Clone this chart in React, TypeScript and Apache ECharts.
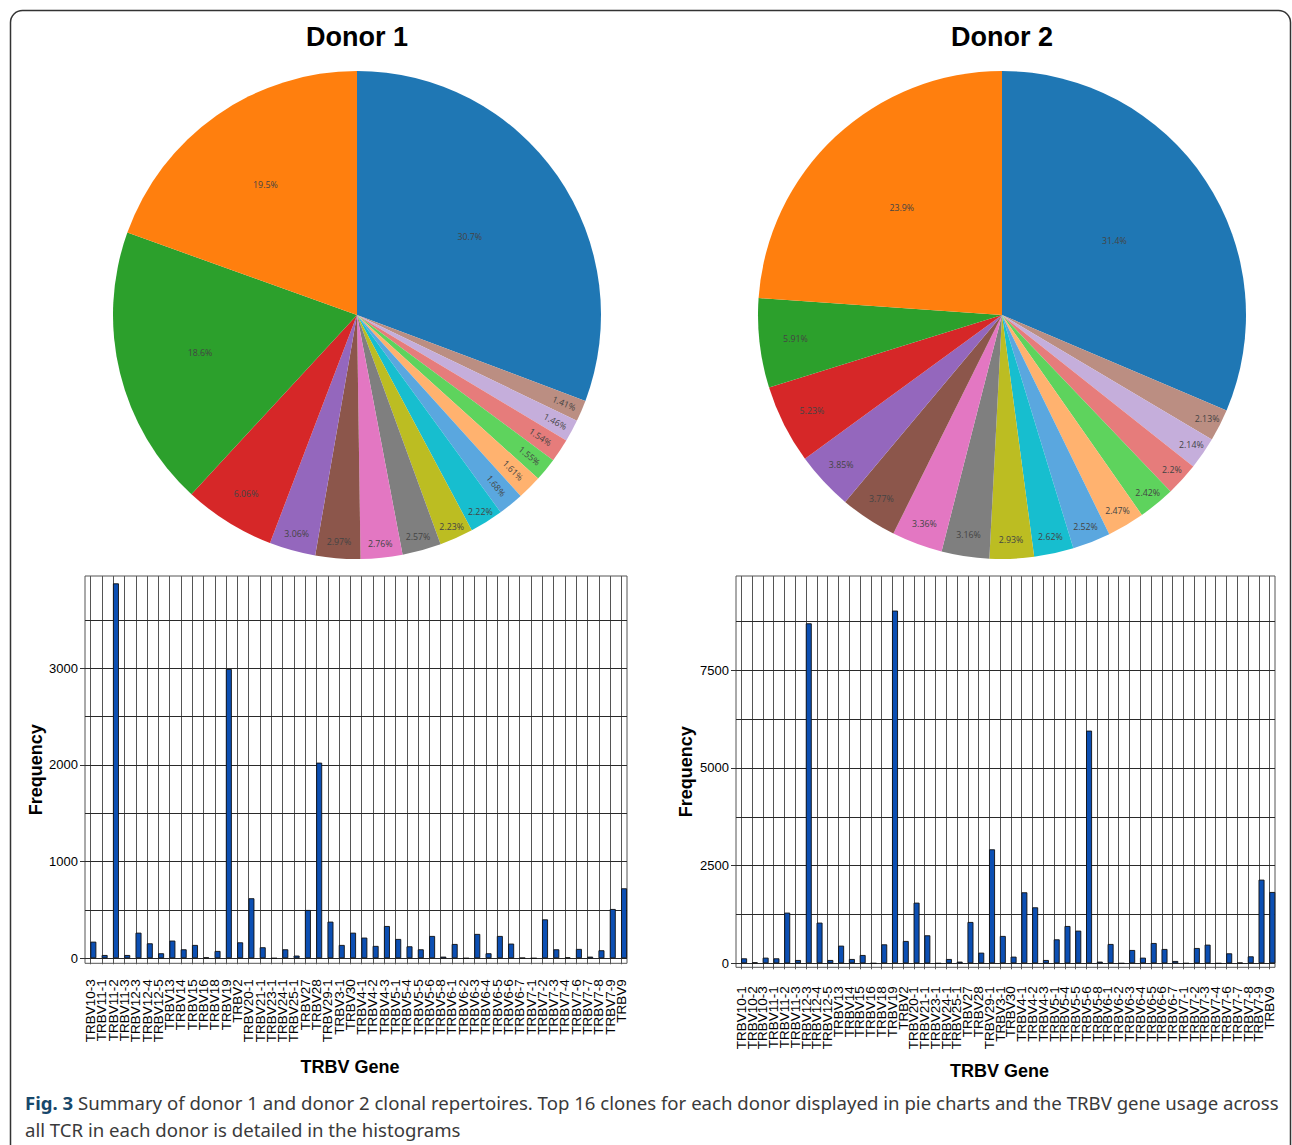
import React, { useEffect, useRef } from "react";
import * as echarts from "echarts";

// ---------- DATA ----------
const pie1Values = [30.7, 19.5, 18.6, 6.06, 3.06, 2.97, 2.76, 2.57, 2.23, 2.22, 1.68, 1.61, 1.55, 1.54, 1.46, 1.41];
const pie2Values = [31.4, 23.9, 5.91, 5.23, 3.85, 3.77, 3.36, 3.16, 2.93, 2.62, 2.52, 2.47, 2.42, 2.2, 2.14, 2.13];

const d1Genes = [
  "TRBV10-3", "TRBV11-1", "TRBV11-2", "TRBV11-3", "TRBV12-3", "TRBV12-4", "TRBV12-5", "TRBV13",
  "TRBV14", "TRBV15", "TRBV16", "TRBV18", "TRBV19", "TRBV2", "TRBV20-1", "TRBV21-1",
  "TRBV23-1", "TRBV24-1", "TRBV25-1", "TRBV27", "TRBV28", "TRBV29-1", "TRBV3-1", "TRBV30",
  "TRBV4-1", "TRBV4-2", "TRBV4-3", "TRBV5-1", "TRBV5-4", "TRBV5-5", "TRBV5-6", "TRBV5-8",
  "TRBV6-1", "TRBV6-2", "TRBV6-3", "TRBV6-4", "TRBV6-5", "TRBV6-6", "TRBV6-7", "TRBV7-1",
  "TRBV7-2", "TRBV7-3", "TRBV7-4", "TRBV7-6", "TRBV7-7", "TRBV7-8", "TRBV7-9", "TRBV9",
];
const d1Freq = [
  172, 34, 3879, 34, 265, 155, 52, 183,
  93, 138, 10, 76, 2993, 165, 621, 114,
  0, 93, 28, 500, 2024, 379, 138, 265,
  214, 128, 334, 200, 124, 93, 231, 17,
  148, 0, 252, 52, 231, 152, 5, 0,
  403, 93, 10, 97, 17, 83, 510, 724,
];

const d2Genes = [
  "TRBV10-1", "TRBV10-2", "TRBV10-3", "TRBV11-1", "TRBV11-2", "TRBV11-3", "TRBV12-3", "TRBV12-4",
  "TRBV12-5", "TRBV13", "TRBV14", "TRBV15", "TRBV16", "TRBV18", "TRBV19", "TRBV2",
  "TRBV20-1", "TRBV21-1", "TRBV23-1", "TRBV24-1", "TRBV25-1", "TRBV27", "TRBV28", "TRBV29-1",
  "TRBV3-1", "TRBV30", "TRBV4-1", "TRBV4-2", "TRBV4-3", "TRBV5-1", "TRBV5-4", "TRBV5-5",
  "TRBV5-6", "TRBV5-8", "TRBV6-1", "TRBV6-2", "TRBV6-3", "TRBV6-4", "TRBV6-5", "TRBV6-6",
  "TRBV6-7", "TRBV7-1", "TRBV7-2", "TRBV7-3", "TRBV7-4", "TRBV7-6", "TRBV7-7", "TRBV7-8",
  "TRBV7-9", "TRBV9",
];
const d2Freq = [
  128, 26, 145, 128, 1297, 85, 8700, 1041,
  85, 452, 111, 213, 0, 486, 9025, 572,
  1552, 717, 0, 111, 43, 1058, 273, 2917,
  700, 171, 1817, 1433, 85, 614, 955, 836,
  5954, 43, 495, 0, 341, 145, 520, 367,
  60, 0, 392, 478, 0, 256, 17, 179,
  2141, 1825,
];

const d1YTicks = [0, 1000, 2000, 3000];
const d1GridLines = [0, 500, 1000, 1500, 2000, 2500, 3000, 3500];
const d2YTicks = [0, 2500, 5000, 7500];
const d2GridLines = [0, 1250, 2500, 3750, 5000, 6250, 7500, 8750];

// ---------- STYLE ----------
const pieColors = [
  "#1f77b4", "#ff7f0e", "#2ca02c", "#d62728", "#9467bd", "#8c564b", "#e377c2", "#7f7f7f",
  "#bcbd22", "#17becf", "#5aa7df", "#ffb26f", "#5ed35d", "#e67c7b", "#c5aedb", "#bb8e82",
];
// label radius (fraction of pie radius) for each slice, and whether the text is turned radially
const pie1LabelR = [0.55, 0.64, 0.65, 0.85, 0.92, 0.92, 0.93, 0.93, 0.94, 0.94, 0.89, 0.89, 0.9, 0.89, 0.91, 0.91];
const pie1Radial = [false, false, false, false, false, false, false, false, false, false, true, true, true, true, true, true];
const pie2LabelR = [0.54, 0.59, 0.84, 0.86, 0.89, 0.89, 0.9, 0.9, 0.91, 0.92, 0.92, 0.92, 0.93, 0.93, 0.93, 0.93];
const pie2Radial = pie2Values.map(() => false);

const R = 244;
const BAR_COLOR = "#0c4fb3";
const SANS = '"Liberation Sans", Arial, sans-serif';

function buildPie(values: number[], labelR: number[], radial: boolean[], center: number[]) {
  const order = [0, ...values.map((_, i) => i).slice(1).reverse()];
  const base: any = {
    type: "pie",
    center,
    radius: R,
    startAngle: 90,
    clockwise: true,
    silent: true,
    avoidLabelOverlap: false,
    label: { show: false },
    labelLine: { show: false },
    itemStyle: { borderWidth: 0 },
    data: order.map((i) => ({ value: values[i], name: `${values[i]}%`, itemStyle: { color: pieColors[i] } })),
  };
  const groups = Array.from(new Set(labelR));
  const labelSeries = groups.map((f) => ({
    type: "pie",
    center,
    radius: [(2 * f - 1) * R, R],
    startAngle: 90,
    clockwise: true,
    silent: true,
    avoidLabelOverlap: false,
    itemStyle: { color: "rgba(0,0,0,0)", borderWidth: 0 },
    labelLine: { show: false },
    label: {
      show: true,
      position: "inside",
      formatter: (p: any) => `${p.value}%`,
      color: "#444",
      fontSize: 8.8,
      fontFamily: '"Open Sans", sans-serif',
    },
    data: order.map((i) => ({
      value: values[i],
      label: { show: labelR[i] === f, rotate: radial[i] ? "radial" : 0 },
    })),
  }));
  return [base, ...labelSeries];
}

function barAxes(
  idx: number,
  genes: string[],
  min: number,
  max: number,
  yTicks: number[],
  labelMargin: number,
  yNameGap: number
) {
  const xAxis = {
    type: "category",
    gridIndex: idx,
    data: genes,
    boundaryGap: true,
    axisLine: { show: false },
    axisTick: { show: true, alignWithLabel: true, length: 6, lineStyle: { color: "#555" } },
    axisLabel: {
      interval: 0,
      rotate: 90,
      margin: labelMargin,
      fontSize: 13.5,
      color: "#000",
      fontFamily: SANS,
    },
    splitLine: { show: true, alignWithLabel: true, lineStyle: { color: "#555", width: 1 } },
    name: "TRBV Gene",
    nameLocation: "middle",
    nameGap: 95,
    nameTextStyle: { fontSize: 18, fontWeight: "bold", color: "#000", fontFamily: SANS, padding: [0, 12, 0, 0] },
  };
  const yAxis = {
    type: "value",
    gridIndex: idx,
    min,
    max,
    axisLine: { show: false },
    axisTick: { show: true, length: 5, customValues: yTicks, lineStyle: { color: "#333" } },
    axisLabel: {
      customValues: yTicks,
      formatter: (v: number) => String(v),
      fontSize: 13,
      color: "#000",
      margin: 7,
      fontFamily: SANS,
    },
    splitLine: { show: false },
    name: "Frequency",
    nameLocation: "middle",
    nameGap: yNameGap,
    nameTextStyle: { fontSize: 18, fontWeight: "bold", color: "#000", fontFamily: SANS },
  };
  return { xAxis, yAxis };
}

function barSeries(idx: number, values: number[], gridLines: number[]) {
  return [
    {
      type: "bar",
      xAxisIndex: idx,
      yAxisIndex: idx,
      data: [],
      barWidth: 6,
      barGap: "-10%",
      silent: true,
    },
    {
      type: "bar",
      xAxisIndex: idx,
      yAxisIndex: idx,
      data: values,
      barWidth: 6,
      barGap: "-10%",
      silent: true,
      z: 3,
      itemStyle: { color: BAR_COLOR, borderColor: "#111", borderWidth: 0.9 },
      markLine: {
        silent: true,
        symbol: "none",
        z: 1,
        label: { show: false },
        lineStyle: { color: "#2a2a2a", width: 1, type: "solid" },
        data: gridLines.map((v) => ({ yAxis: v })),
      },
    },
  ];
}

export default function App() {
  const ref = useRef<HTMLDivElement>(null);

  useEffect(() => {
    if (!ref.current) return;
    const chart = echarts.init(ref.current, undefined, { renderer: "svg" });

    const a1 = barAxes(0, d1Genes, -52, 3955, d1YTicks, 16, 39);
    const a2 = barAxes(1, d2Genes, -102, 9910, d2YTicks, 19, 41);

    const option: any = {
      animation: false,
      backgroundColor: "#fff",
      grid: [
        { left: 85, top: 576, width: 542, height: 387.3, show: true, borderColor: "#555", borderWidth: 1, containLabel: false, outerBoundsMode: "none" },
        { left: 736, top: 576, width: 539, height: 391.3, show: true, borderColor: "#555", borderWidth: 1, containLabel: false, outerBoundsMode: "none" },
      ],
      xAxis: [a1.xAxis, a2.xAxis],
      yAxis: [a1.yAxis, a2.yAxis],
      series: [
        ...buildPie(pie1Values, pie1LabelR, pie1Radial, [357, 315]),
        ...buildPie(pie2Values, pie2LabelR, pie2Radial, [1002, 315]),
        ...barSeries(0, d1Freq, d1GridLines),
        ...barSeries(1, d2Freq, d2GridLines),
      ],
      graphic: [
        {
          type: "rect",
          silent: true,
          shape: { x: 10.5, y: 10.5, width: 1280, height: 1300, r: 12 },
          style: { fill: "rgba(0,0,0,0)", stroke: "#333", lineWidth: 1.5 },
        },
        {
          type: "text",
          x: 357,
          y: 37,
          style: { text: "Donor 1", font: `bold 27px ${SANS}`, fill: "#000", align: "center", verticalAlign: "middle" },
        },
        {
          type: "text",
          x: 1002,
          y: 37,
          style: { text: "Donor 2", font: `bold 27px ${SANS}`, fill: "#000", align: "center", verticalAlign: "middle" },
        },
        {
          type: "text",
          x: 25,
          y: 1089,
          style: {
            text:
              "{b|Fig. 3} Summary of donor 1 and donor 2 clonal repertoires. Top 16 clones for each donor displayed in pie charts and the TRBV gene usage across\nall TCR in each donor is detailed in the histograms",
            fontSize: 18.6,
            fontFamily: '"Noto Sans", sans-serif',
            fill: "#3a3a3a",
            lineHeight: 27,
            align: "left",
            verticalAlign: "top",
            rich: {
              b: { fontSize: 18.6, fontFamily: '"Noto Sans", sans-serif', fontWeight: "bold", fill: "#17486b", lineHeight: 27 },
            },
          },
        },
      ],
    };

    chart.setOption(option);
    return () => chart.dispose();
  }, []);

  return (
    <div
      ref={ref}
      style={{ position: "fixed", left: 0, top: 0, width: 1292, height: 1145, background: "#fff" }}
    />
  );
}
